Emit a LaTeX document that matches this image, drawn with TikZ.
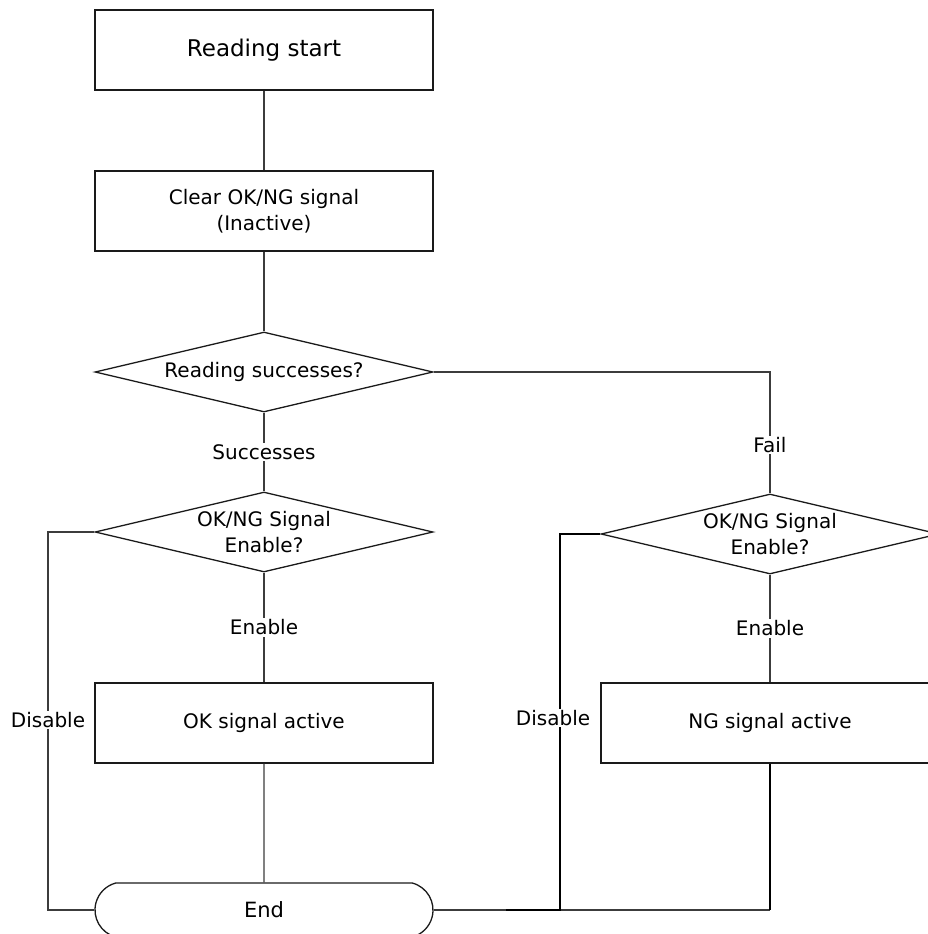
\documentclass[tikz,border=0pt]{standalone}
\usepackage{fontspec}
\setmainfont{DejaVu Sans}
\usetikzlibrary{shapes.geometric,shapes.misc,calc}
\definecolor{strich}{HTML}{1A1A1A}
\definecolor{verbgrau}{HTML}{3C3C3C}
\tikzset{
  kasten/.style={draw=strich,line width=1.3pt,minimum width=338pt,minimum height=80pt,inner sep=0pt,align=center},
  raute/.style={diamond,draw=strich,line width=1.3pt,minimum width=338pt,minimum height=80pt,inner sep=0pt},
  ende/.style={rounded rectangle,rounded rectangle arc length=150,draw=strich,line width=1.3pt,minimum width=338pt,minimum height=54pt,inner sep=0pt},
  verb/.style={verbgrau,line width=1.3pt},
  verbd/.style={black,line width=2.6pt},
  marke/.style={fill=white,text=black,inner sep=1.5pt},
}

\begin{document}
\begin{tikzpicture}[x=1pt,y=-1pt,font=\fontsize{20}{26}\selectfont]
  \useasboundingbox (0,0) rectangle (928,934);
  \node[kasten,font=\fontsize{23}{28}\selectfont] (start) at (264,50) {Reading start};
  \node[kasten] (clear) at (264,211) {Clear OK/NG signal\\(Inactive)};
  \node[raute,label={center:Reading successes?}] (q1) at (264,372) {};
  \node[raute,label={[align=center]center:OK/NG Signal\\Enable?}] (q2) at (264,532) {};
  \node[raute,label={[align=center]center:OK/NG Signal\\Enable?}] (q3) at (770,534) {};
  \node[kasten] (ok) at (264,723) {OK signal active};
  \node[kasten] (ng) at (770,723) {NG signal active};
  \node[ende,font=\fontsize{21}{26}\selectfont] (finish) at (264,910) {End};
  \coordinate (dl) at (48,720);
  \coordinate (dr) at (560,718);
  \coordinate (ecke) at (ng.south |- finish.east);
  \draw[verb] (start) -- (clear);
  \draw[verb] (clear) -- (q1);
  \draw[verb] (q1) -- node[marke]{Successes} (q2);
  \draw[verb] (q1.east) -| node[marke,pos=0.8]{Fail} (q3.north);
  \draw[verb] (q2) -- node[marke]{Enable} (ok);
  \draw[verb] (q3) -- node[marke]{Enable} (ng);
  \draw[verb] (ok) -- (finish);
  \draw[verb] (q2.west) -| (dl) |- (finish.west);
  \node[marke] at (dl) {Disable};
  \draw[verb] (finish.east) -- (ecke);
  \draw[verbd] (ng) -- (ecke);
  \draw[verbd] (q3.west) -| (dr) |- ($(finish.east)+(72,0)$);
  \node[marke,xshift=-7pt] at (dr) {Disable};
\end{tikzpicture}
\end{document}
